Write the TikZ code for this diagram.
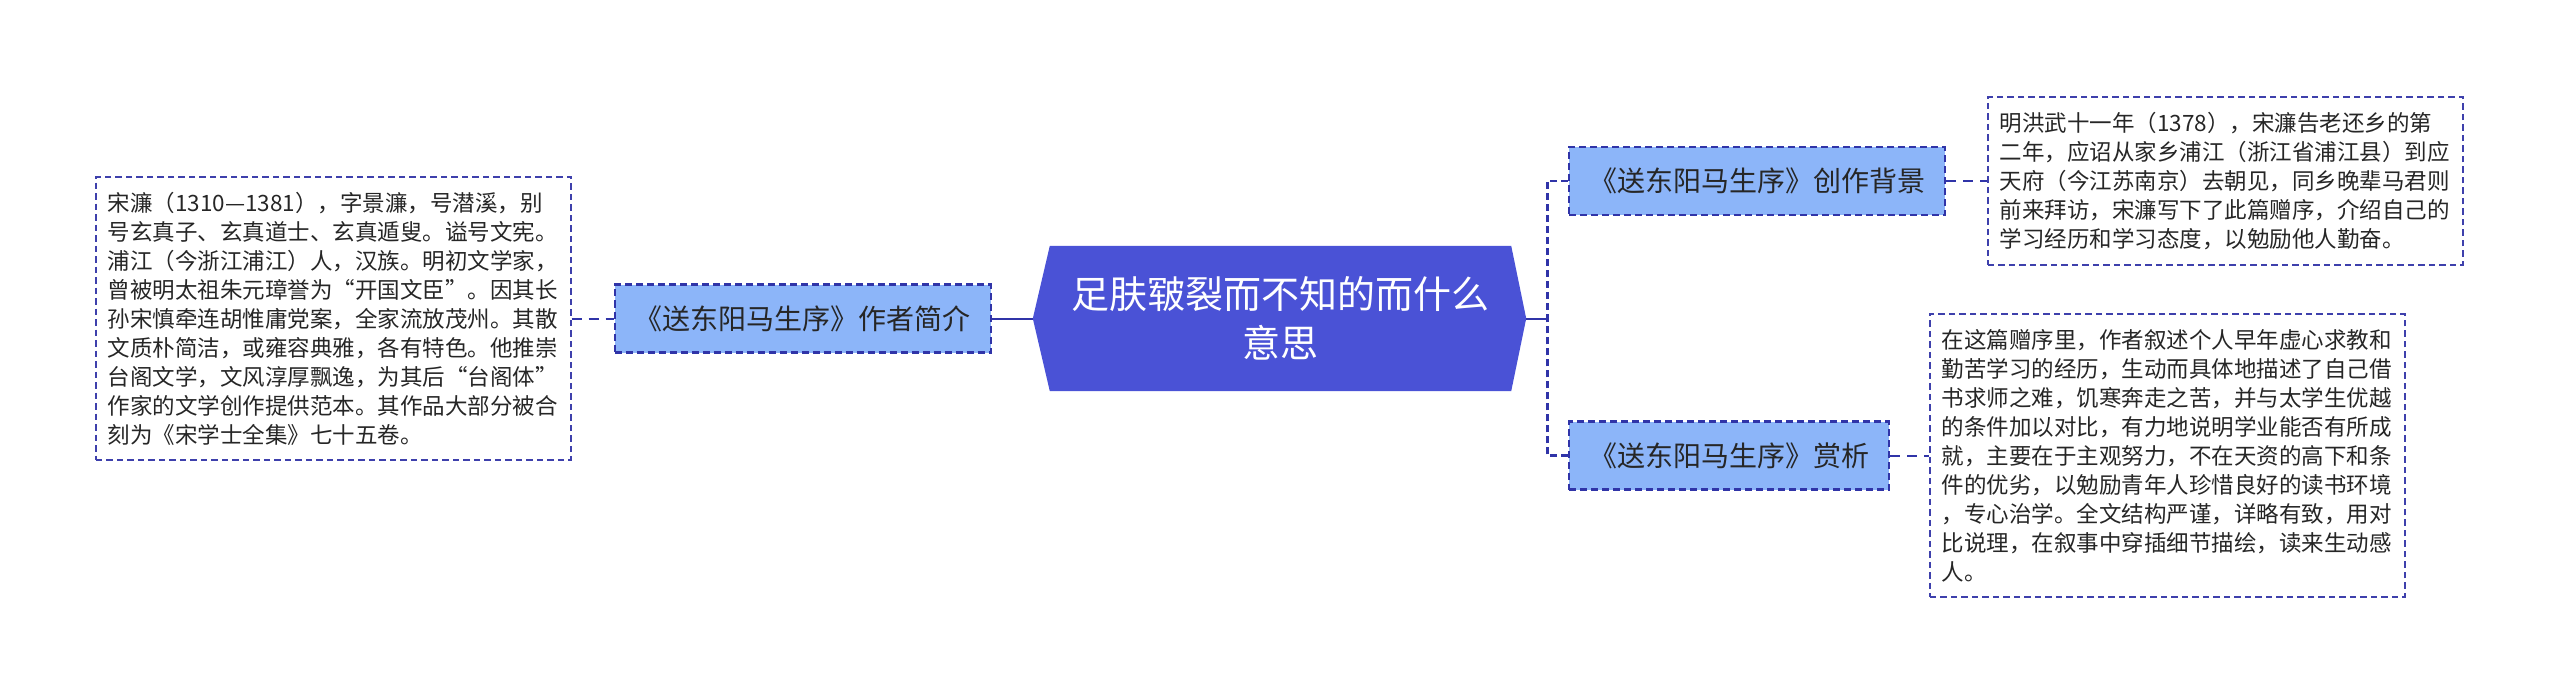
\documentclass[tikz,border=0pt]{standalone}
\usepackage{fontspec}
\newfontfamily\cjk{Noto Sans CJK SC}
\definecolor{mainblue}{RGB}{74,82,214}
\definecolor{catblue}{RGB}{140,181,249}
\definecolor{linkblue}{RGB}{48,52,168}
\definecolor{leafline}{RGB}{62,64,172}
\definecolor{inkgray}{RGB}{38,38,38}
\usetikzlibrary{positioning,backgrounds}

\begin{document}
\begin{tikzpicture}[
  x=1pt,y=-1pt,
  node distance=42pt,
  mainnode/.style={minimum width=461pt,minimum height=145pt,inner sep=0pt,align=center,text=white,font=\cjk\fontsize{38pt}{49pt}\selectfont},
  catbox/.style={draw=linkblue,line width=2.2pt,dash pattern=on 7pt off 4pt,fill=catblue,text=inkgray,minimum height=68pt,inner xsep=20pt,font=\cjk\fontsize{28pt}{34pt}\selectfont},
  leafbox/.style={draw=leafline,line width=1.5pt,dash pattern=on 6.5pt off 4pt,text=inkgray,text width=451pt,align=left,inner xsep=12pt,inner ysep=15pt,font=\cjk\fontsize{22.5pt}{29pt}\selectfont},
  trunk/.style={linkblue,line width=2pt},
  branch/.style={linkblue,line width=2.6pt,dash pattern=on 7pt off 4pt},
  twig/.style={linkblue,line width=2pt,dash pattern=on 10pt off 7pt}
]
  \useasboundingbox (0,0) rectangle (2560,695);
  \node[mainnode] (main) at (1280.5,318.5) {足肤皲裂而不知的而什么\\意思};
  \coordinate (mainL) at ([xshift=-17pt]main.west);
  \coordinate (mainR) at ([xshift=15pt]main.east);
  \begin{scope}[on background layer]
    \fill[mainblue] (main.north west) -- (main.north east) -- (mainR) -- (main.south east) -- (main.south west) -- (mainL) -- cycle;
  \end{scope}

  \node[catbox,left=41pt of mainL] (author) {《送东阳马生序》作者简介};
  \node[leafbox,left=of author] (authortext) {宋濂（1310—1381），字景濂，号潜溪，别\\
  号玄真子、玄真道士、玄真遁叟。谥号文宪。\\
  浦江（今浙江浦江）人，汉族。明初文学家，\\
  曾被明太祖朱元璋誉为“开国文臣”。因其长\\
  孙宋慎牵连胡惟庸党案，全家流放茂州。其散\\
  文质朴简洁，或雍容典雅，各有特色。他推崇\\
  台阁文学，文风淳厚飘逸，为其后“台阁体”\\
  作家的文学创作提供范本。其作品大部分被合\\
  刻为《宋学士全集》七十五卷。};

  \coordinate[right=21pt of mainR] (fork);
  \node[catbox,anchor=west] (background) at (1568,181) {《送东阳马生序》创作背景};
  \node[leafbox,right=41pt of background] (backgroundtext) {明洪武十一年（1378），宋濂告老还乡的第\\
  二年，应诏从家乡浦江（浙江省浦江县）到应\\
  天府（今江苏南京）去朝见，同乡晚辈马君则\\
  前来拜访，宋濂写下了此篇赠序，介绍自己的\\
  学习经历和学习态度，以勉励他人勤奋。};
  \node[catbox,anchor=west] (review) at (1568,455.5) {《送东阳马生序》赏析};
  \node[leafbox,right=39pt of review] (reviewtext) {在这篇赠序里，作者叙述个人早年虚心求教和\\
  勤苦学习的经历，生动而具体地描述了自己借\\
  书求师之难，饥寒奔走之苦，并与太学生优越\\
  的条件加以对比，有力地说明学业能否有所成\\
  就，主要在于主观努力，不在天资的高下和条\\
  件的优劣，以勉励青年人珍惜良好的读书环境\\
  ，专心治学。全文结构严谨，详略有致，用对\\
  比说理，在叙事中穿插细节描绘，读来生动感\\
  人。};

  \draw[trunk] (author.east) -- (mainL);
  \draw[twig] (authortext.east) -- (author.west);
  \draw[trunk] (mainR) -- (fork);
  \draw[branch] (background.west) -| (fork);
  \draw[branch] (review.west) -| (fork);
  \draw[twig] (background.east) -- (backgroundtext.west);
  \draw[twig] (review.east) -- (reviewtext.west);
\end{tikzpicture}
\end{document}
